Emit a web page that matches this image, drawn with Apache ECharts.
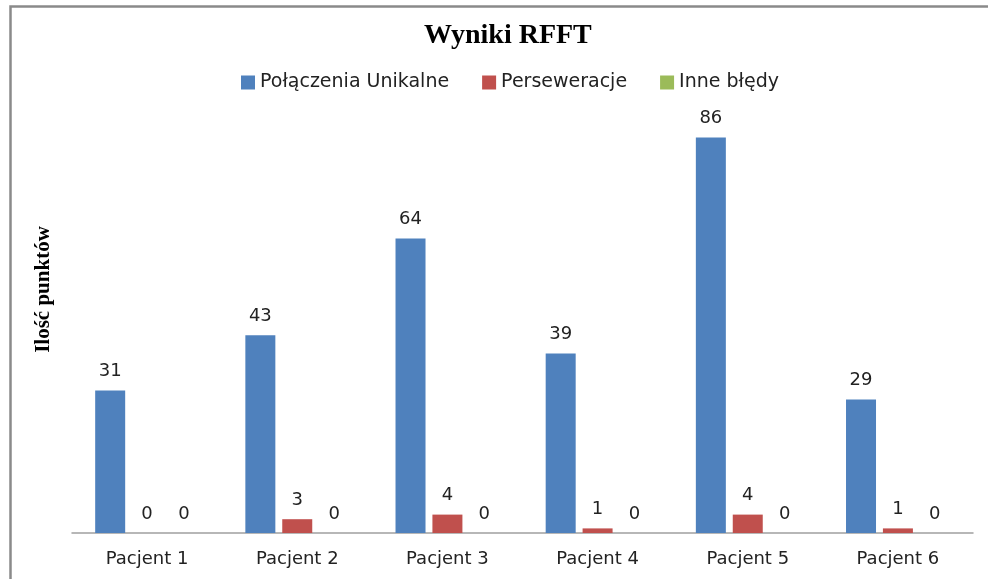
<!DOCTYPE html>
<html>
<head>
<meta charset="utf-8">
<script src="https://cdn.jsdelivr.net/npm/echarts@6/dist/echarts.min.js"></script>
<style>
  html, body { margin: 0; padding: 0; background: #fff; }
  #chart { width: 988px; height: 579px; }
</style>
</head>
<body>
<div id="chart"></div>
<script>
// Wyniki RFFT – punkty dla każdego pacjenta
const categories = ['Pacjent 1', 'Pacjent 2', 'Pacjent 3', 'Pacjent 4', 'Pacjent 5', 'Pacjent 6'];
const seriesNames = ['Połączenia Unikalne', 'Perseweracje', 'Inne błędy'];
const unikalne = [31, 43, 64, 39, 86, 29];
const perseweracje = [0, 3, 4, 1, 4, 1];
const inneBledy = [0, 0, 0, 0, 0, 0];
const colors = ['#4F81BD', '#C0504D', '#9BBB59'];

const labelFont = 'DejaVu Sans, Verdana, sans-serif';

function barSeries(name, data, color) {
  return {
    name: name,
    type: 'bar',
    data: data,
    barWidth: 30,
    barGap: '23%',
    itemStyle: { color: color },
    label: {
      show: true,
      position: 'top',
      distance: 10,
      color: '#222',
      fontFamily: labelFont,
      fontSize: 18
    }
  };
}

const chart = echarts.init(document.getElementById('chart'), null, { renderer: 'canvas' });
chart.setOption({
  animation: false,
  backgroundColor: '#fff',
  title: {
    text: 'Wyniki RFFT',
    left: 419,
    top: 17,
    textStyle: {
      fontFamily: 'Liberation Serif, Times New Roman, serif',
      fontWeight: 'bold',
      fontSize: 28,
      color: '#000'
    }
  },
  legend: {
    data: seriesNames,
    top: 68,
    left: 236,
    itemWidth: 14,
    itemHeight: 14,
    itemGap: 33,
    icon: 'rect',
    textStyle: { fontFamily: labelFont, fontSize: 19, color: '#222' }
  },
  grid: { left: 72, right: 15, top: 73, bottom: 46, containLabel: false },
  xAxis: {
    type: 'category',
    data: categories,
    axisLine: { lineStyle: { color: '#a0a0a0', width: 1.5 } },
    axisTick: { show: false },
    axisLabel: { color: '#222', fontFamily: labelFont, fontSize: 18, margin: 17 }
  },
  yAxis: {
    type: 'value',
    min: 0,
    max: 100,
    interval: 20,
    axisLine: { show: false },
    axisTick: { show: false },
    axisLabel: { show: false },
    splitLine: { show: false }
  },
  graphic: [
    {
      type: 'rect',
      shape: { x: 10.5, y: 6.5, width: 1200, height: 800 },
      style: { fill: 'none', stroke: '#8a8a8a', lineWidth: 2.5 },
      z: -1
    },
    {
      type: 'text',
      left: 33,
      top: 'middle',
      rotation: Math.PI / 2,
      style: {
        text: 'Ilość punktów',
        fontFamily: 'Liberation Serif, Times New Roman, serif',
        fontWeight: 'bold',
        fontSize: 21,
        fill: '#000'
      }
    }
  ],
  series: [
    barSeries(seriesNames[0], unikalne, colors[0]),
    barSeries(seriesNames[1], perseweracje, colors[1]),
    barSeries(seriesNames[2], inneBledy, colors[2])
  ]
});
</script>
</body>
</html>
